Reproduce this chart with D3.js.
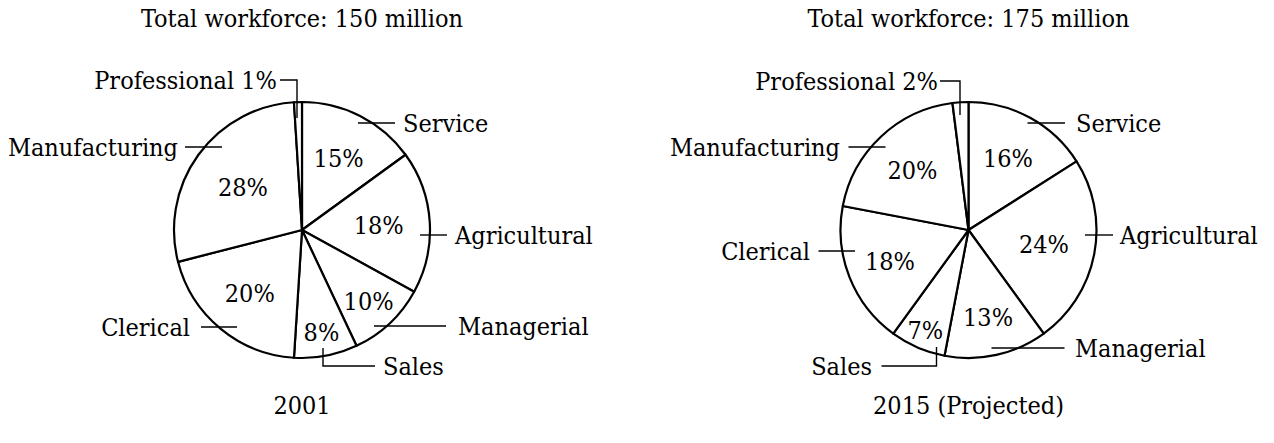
<!DOCTYPE html>
<html>
<head>
<meta charset="utf-8">
<script src="https://cdn.jsdelivr.net/npm/d3@7"></script>
<style>
  html, body { margin: 0; padding: 0; background: #fff; }
  svg { display: block; }
</style>
</head>
<body>
<div id="chart"></div>
<script>
// data
const categories = ["Service", "Agricultural", "Managerial", "Sales", "Clerical", "Manufacturing", "Professional"];
const share2001 = [15, 18, 10, 8, 20, 28, 1];
const share2015 = [16, 24, 13, 7, 18, 20, 2];
const workforce = [150, 175];
const yearLabels = ["2001", "2015 (Projected)"];

const width = 1274, height = 443;
const radius = 128;
const fontSize = 25;
const fontFamily = "'DejaVu Serif Condensed', 'DejaVu Serif', serif";

// layout for the two pies (label radii as fraction of radius, leader lines relative to centre)
const pies = [
  {
    cx: 302, cy: 230, values: share2001, workforce: workforce[0], year: yearLabels[0],
    labelR: [0.63, 0.60, 0.76, 0.81, 0.64, 0.57, null],
    leaders: [
      { pts: [[56, -107], [93, -107]], text: [101, -107], anchor: "start" },
      { pts: [[118, 5], [145, 5]], text: [153, 5], anchor: "start" },
      { pts: [[72, 96], [144, 96]], text: [156, 96], anchor: "start" },
      { pts: [[21, 118], [21, 136], [73, 136]], text: [81, 136], anchor: "start" },
      { pts: [[-65, 97], [-101, 97]], text: [-112, 97], anchor: "end" },
      { pts: [[-80, -83], [-117, -83]], text: [-124, -83], anchor: "end" },
      { pts: [[-5, -112], [-5, -150], [-22, -150]], text: [-25, -150], anchor: "end" }
    ]
  },
  {
    cx: 968.5, cy: 230, values: share2015, workforce: workforce[1], year: yearLabels[1],
    labelR: [0.64, 0.60, 0.70, 0.85, 0.66, 0.64, null],
    leaders: [
      { pts: [[59, -107], [96.5, -107]], text: [107.5, -107], anchor: "start" },
      { pts: [[116.5, 5], [144.5, 5]], text: [151.5, 5], anchor: "start" },
      { pts: [[23, 118], [96, 118]], text: [106.5, 118], anchor: "start" },
      { pts: [[-32, 117], [-32, 136], [-87, 136]], text: [-96.5, 136], anchor: "end" },
      { pts: [[-113.5, 21], [-150, 21]], text: [-158.5, 21], anchor: "end" },
      { pts: [[-83, -83], [-120, -83]], text: [-128.5, -83], anchor: "end" },
      { pts: [[-8.5, -115], [-8.5, -149], [-28.5, -149]], text: [-30.5, -149], anchor: "end" }
    ]
  }
];

const svg = d3.select("#chart")
  .append("svg")
  .attr("width", width)
  .attr("height", height);

const pie = d3.pie().sort(null).value(d => d);
const arc = d3.arc().innerRadius(0).outerRadius(radius);
const line = d3.line();

function addText(sel, x, y, str, anchor, dy) {
  return sel.append("text")
    .attr("x", x).attr("y", y).attr("dy", dy || null)
    .attr("text-anchor", anchor)
    .attr("font-size", fontSize)
    .attr("fill", "#000")
    .style("font-family", fontFamily)
    .text(str);
}

pies.forEach(p => {
  const g = svg.append("g").attr("transform", `translate(${p.cx},${p.cy})`);
  const arcs = pie(p.values);

  g.selectAll("path.slice")
    .data(arcs)
    .enter().append("path")
    .attr("class", "slice")
    .attr("d", arc)
    .attr("fill", "#fff")
    .attr("stroke", "#000")
    .attr("stroke-width", 2.2)
    .attr("stroke-linejoin", "round");

  // percentage labels inside slices
  arcs.forEach((a, i) => {
    if (p.labelR[i] == null) return;
    const r = radius * p.labelR[i];
    const [x, y] = d3.arc().innerRadius(r).outerRadius(r).centroid(a);
    addText(g, x, y, p.values[i] + "%", "middle", "0.36em");
  });

  // category labels with leader lines
  p.leaders.forEach((l, i) => {
    g.append("path")
      .attr("d", line(l.pts))
      .attr("fill", "none")
      .attr("stroke", "#000")
      .attr("stroke-width", 1.4);
    const name = categories[i] === "Professional" ? `Professional ${p.values[i]}%` : categories[i];
    addText(g, l.text[0], l.text[1], name, l.anchor, "0.36em");
  });

  addText(svg, p.cx, 27, `Total workforce: ${p.workforce} million`, "middle");
  addText(svg, p.cx, 414, p.year, "middle");
});
</script>
</body>
</html>
